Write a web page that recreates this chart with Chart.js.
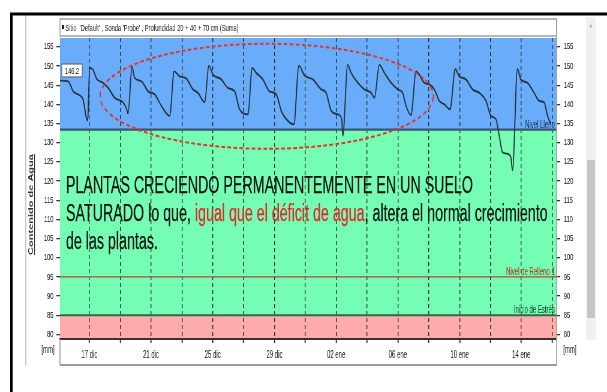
<!DOCTYPE html>
<html lang="es">
<head>
<meta charset="UTF-8">
<script src="https://cdn.jsdelivr.net/npm/chart.js"></script>
<style>
  html, body { margin: 0; padding: 0; background: #fff; overflow: hidden; }
  #wrap { width: 607px; height: 392px; overflow: hidden; }
</style>
</head>
<body>
<div id="wrap">
  <!-- the original screenshot is squeezed sideways (~0.6), so draw at 1012 px and squeeze to 607 -->
  <canvas id="grafico" width="1012" height="392" style="width:607px;height:392px;display:block"></canvas>
</div>
<script>
// x = days counted from 17 dic
const dias = [-1.90, -1.37, -1.05, -0.61, -0.40, -0.18, -0.10, 0.02, 0.25, 0.47, 0.89, 1.22, 1.65, 2.19, 2.40, 2.51,
  2.77, 2.94, 3.38, 3.81, 4.24, 4.67, 5.21, 5.50, 5.86, 6.29, 6.72, 7.04, 7.48, 7.75, 8.01, 8.56, 8.98, 9.42, 9.74, 10.28,
  10.56, 10.82, 11.25, 11.68, 12.12, 12.44, 12.87, 13.26, 13.58, 13.95, 14.49, 15.03, 15.35, 15.68, 16.10, 16.36, 16.43,
  16.75, 16.97, 17.40, 17.83, 18.27, 18.48, 18.80, 19.13, 19.56, 19.99, 20.31, 20.53, 20.85, 21.18, 21.72, 22.04, 22.36,
  22.69, 23.01, 23.38, 23.72, 23.98, 24.41, 24.84, 25.28, 25.71, 26.03, 26.36, 26.57, 26.78, 27.10, 27.32, 27.43, 27.75,
  27.97, 28.40, 28.83, 29.16, 29.48, 29.70, 29.92];
const agua = [146.2, 146.0, 143.4, 142.3, 141.2, 136.3, 135.8, 149.5, 149.0, 146.7, 145.6, 144.3, 141.7, 140.5, 139.0, 137.6,
  149.8, 146.9, 146.0, 143.4, 142.6, 139.6, 137.0, 148.6, 147.3, 146.7, 143.9, 143.0, 140.6, 150.1, 147.8, 146.5, 144.3, 143.4, 138.7, 137.4,
  149.5, 148.2, 146.5, 143.4, 142.6, 138.3, 135.7, 134.8, 150.1, 147.5, 146.5, 143.9, 143.0, 138.3, 137.4, 136.1, 131.8,
  150.3, 148.2, 145.6, 143.9, 143.0, 141.7, 150.3, 148.2, 145.6, 143.9, 143.0, 139.6, 137.2, 148.6, 145.6, 145.2, 143.9,
  140.9, 140.0, 138.7, 149.2, 147.3, 146.5, 143.9, 143.0, 140.9, 137.0, 136.1, 131.8, 127.5, 127.1, 126.2, 122.8, 149.2,
  146.5, 145.6, 143.0, 140.9, 140.5, 137.0, 134.8];

const ticksDias = [0, 2, 4, 6, 8, 10, 12, 14, 16, 18, 20, 22, 24, 26, 28, 30];
const etiquetasX = ['17 dic', '21 dic', '25 dic', '29 dic', '02 ene', '06 ene', '10 ene', '14 ene'];
const ticksY = [80, 85, 90, 95, 100, 105, 110, 115, 120, 125, 130, 135, 140, 145, 150, 155];

// levels (mm)
const nivelLleno = 133.4;
const nivelRelleno = 95;
const inicioEstres = 85;
const yMin = 78.8, yMax = 157.3;
const xMin = -1.9, xMax = 30.29;

// dashed ellipse: centre day, centre mm, radius in days, radius in mm
const elipse = [11.5, 142.1, 10.8, 13.7];

const FUENTE = "'Liberation Sans', Arial, sans-serif";
Chart.defaults.font.family = FUENTE;

const decorado = {
  id: 'decorado',
  beforeDraw(chart) {
    const { ctx, chartArea: a, scales: { y } } = chart;
    ctx.save();
    ctx.fillStyle = '#fff';
    ctx.fillRect(0, 0, chart.width, chart.height);
    const bandas = [[nivelLleno, yMax, '#69adfa'], [inicioEstres, nivelLleno, '#74fdb3'], [yMin, inicioEstres, '#fdabab']];
    bandas.forEach(([lo, hi, c]) => {
      const t = y.getPixelForValue(hi), b = y.getPixelForValue(lo);
      ctx.fillStyle = c;
      ctx.fillRect(a.left, t, a.right - a.left, b - t);
    });
    ctx.restore();
  },
  beforeDatasetsDraw(chart) {
    const { ctx, chartArea: a, scales: { y } } = chart;
    const lineas = [
      [nivelLleno, '#3c5572', 2.2, 'Nivel Lleno', '#1c2c4c'],
      [nivelRelleno, '#b5493a', 1.3, 'Nivel de Relleno 1', '#b23322'],
      [inicioEstres, '#2e6a4c', 1.8, 'Inicio de Estrés', '#163826']
    ];
    ctx.save();
    ctx.font = '10px ' + FUENTE;
    ctx.textAlign = 'right';
    ctx.textBaseline = 'alphabetic';
    lineas.forEach(([v, col, w, txt, tcol]) => {
      const py = y.getPixelForValue(v);
      ctx.strokeStyle = col;
      ctx.lineWidth = w;
      ctx.beginPath();
      ctx.moveTo(a.left, py);
      ctx.lineTo(a.right, py);
      ctx.stroke();
      ctx.fillStyle = tcol;
      ctx.fillText(txt, a.right - 3, py - 2);
    });
    ctx.restore();
  },
  afterDatasetsDraw(chart) {
    const { ctx, chartArea: a, scales: { x, y } } = chart;
    ctx.save();

    // red dashed ellipse
    const cx = x.getPixelForValue(elipse[0]), cy = y.getPixelForValue(elipse[1]);
    const rx = x.getPixelForValue(elipse[0] + elipse[2]) - cx;
    const ry = cy - y.getPixelForValue(elipse[1] + elipse[3]);
    ctx.strokeStyle = '#e8302c';
    ctx.lineWidth = 2;
    ctx.setLineDash([6, 4]);
    ctx.beginPath();
    ctx.ellipse(cx, cy, rx, ry, 0, 0, Math.PI * 2);
    ctx.stroke();
    ctx.setLineDash([]);

    // big note
    ctx.font = '23px ' + FUENTE;
    ctx.textAlign = 'left';
    ctx.textBaseline = 'alphabetic';
    const negro = '#111', rojo = '#e5262b';
    const lineasTexto = [
      [['PLANTAS CRECIENDO PERMANENTEMENTE EN UN SUELO', negro]],
      [['SATURADO lo que, ', negro], ['igual que el déficit de agua', rojo], [', altera el normal crecimiento', negro]],
      [['de las plantas.', negro]]
    ];
    const ancho2 = lineasTexto[1].reduce((s, p) => s + ctx.measureText(p[0]).width, 0);
    const k = 803 / ancho2;
    ctx.lineWidth = 0.25;
    lineasTexto.forEach((partes, i) => {
      ctx.save();
      ctx.translate(a.left + 10, 193 + i * 28);
      ctx.scale(k, 1);
      let px = 0;
      partes.forEach(([t, c]) => {
        ctx.fillStyle = c;
        ctx.strokeStyle = c;
        ctx.fillText(t, px, 0);
        ctx.strokeText(t, px, 0);
        px += ctx.measureText(t).width;
      });
      ctx.restore();
    });

    // current value box
    ctx.fillStyle = '#fff';
    ctx.fillRect(a.left + 3, 64, 34, 13);
    ctx.strokeStyle = '#6a6a6a';
    ctx.lineWidth = 1.2;
    ctx.strokeRect(a.left + 3, 64, 34, 13);
    ctx.fillStyle = '#222';
    ctx.font = '9.5px ' + FUENTE;
    ctx.textAlign = 'center';
    ctx.textBaseline = 'middle';
    ctx.fillText(agua[0].toFixed(1), a.left + 20, 71);
    ctx.restore();
  },
  afterDraw(chart) {
    const { ctx, chartArea: a } = chart;
    ctx.save();

    // title strip
    ctx.fillStyle = '#fff';
    ctx.fillRect(a.left, 19, a.right - a.left, 17);
    ctx.strokeStyle = '#a0a0a0';
    ctx.lineWidth = 1.5;
    ctx.strokeRect(a.left, 19, a.right - a.left, 17);
    ctx.fillStyle = '#222';
    ctx.fillRect(a.left + 3, 25, 4, 4);
    ctx.font = '9.5px ' + FUENTE;
    ctx.textAlign = 'left';
    ctx.textBaseline = 'middle';
    ctx.fillText("Sitio  'Default' , Sonda 'Probe' , Profundidad 20 + 40 + 70 cm (Suma)", a.left + 9, 28);

    // frame around the x axis area
    ctx.strokeStyle = '#9a9a9a';
    ctx.lineWidth = 1.5;
    ctx.beginPath();
    ctx.moveTo(a.left, a.bottom);
    ctx.lineTo(a.left, 365);
    ctx.moveTo(a.right, 19);
    ctx.lineTo(a.right, 365);
    ctx.stroke();
    ctx.lineWidth = 2.2;
    ctx.beginPath();
    ctx.moveTo(a.left, 365);
    ctx.lineTo(a.right, 365);
    ctx.stroke();

    // panel edge and black outer frame
    ctx.strokeStyle = '#cacaca';
    ctx.lineWidth = 2;
    ctx.beginPath();
    ctx.moveTo(43, 15);
    ctx.lineTo(43, 366);
    ctx.stroke();
    ctx.strokeStyle = '#000';
    ctx.lineWidth = 3;
    ctx.beginPath();
    ctx.moveTo(17, 14);
    ctx.lineTo(chart.width, 14);
    ctx.stroke();
    ctx.lineWidth = 4;
    ctx.beginPath();
    ctx.moveTo(19, 13);
    ctx.lineTo(19, chart.height);
    ctx.stroke();

    // scrollbar
    ctx.fillStyle = '#f0f0f0';
    ctx.fillRect(977, 17, 16, 323);
    ctx.fillStyle = '#c6c6c6';
    ctx.fillRect(979, 160, 13, 158);
    ctx.fillStyle = '#777';
    ctx.font = '9px ' + FUENTE;
    ctx.textAlign = 'center';
    ctx.fillText('^', 985, 29);

    // units and axis title
    ctx.fillStyle = '#222';
    ctx.font = '10px ' + FUENTE;
    ctx.fillText('[mm]', 80, 350);
    ctx.fillText('[mm]', 950, 350);

    ctx.translate(51, 204.5);
    ctx.rotate(-Math.PI / 2);
    ctx.font = 'bold 11px ' + FUENTE;
    ctx.textBaseline = 'alphabetic';
    ctx.fillStyle = '#333';
    const titulo = 'Contenido de Agua';
    const w = ctx.measureText(titulo).width;
    ctx.fillText(titulo, 0, 4);
    ctx.fillRect(-w / 2, 6, w, 1.2);
    ctx.restore();
  }
};

const tickY = {
  min: yMin, max: yMax,
  afterBuildTicks: s => { s.ticks = ticksY.map(v => ({ value: v })); },
  grid: { drawOnChartArea: false, tickLength: 6, color: '#333', lineWidth: 1.3 },
  border: { display: false }
};

new Chart(document.getElementById('grafico'), {
  type: 'line',
  data: {
    datasets: [{
      label: 'Suma',
      data: dias.map((d, i) => ({ x: d, y: agua[i] })),
      borderColor: '#26333f',
      borderWidth: 1.9,
      pointRadius: 0,
      cubicInterpolationMode: 'monotone',
      fill: false,
      yAxisID: 'y'
    }]
  },
  options: {
    responsive: false,
    animation: false,
    devicePixelRatio: 1,
    layout: { padding: { top: 38, left: 0, right: 0, bottom: 0 } },
    plugins: { legend: { display: false }, tooltip: { enabled: false }, title: { display: false } },
    scales: {
      x: {
        type: 'linear', min: xMin, max: xMax,
        afterBuildTicks: s => { s.ticks = ticksDias.map(v => ({ value: v })); },
        afterFit: s => { s.height = 53; },
        ticks: {
          autoSkip: false, maxRotation: 0, padding: 6, color: '#111', font: { size: 10 },
          callback: v => (v % 4 === 0 ? (etiquetasX[v / 4] || '') : '')
        },
        grid: { color: '#2a2a2a', lineWidth: 1.4, tickLength: 4, tickColor: '#222', tickWidth: 1.8 },
        border: { display: true, color: '#333', width: 2, dash: [4, 3] }
      },
      y: Object.assign({}, tickY, {
        position: 'left',
        afterFit: s => { s.width = 100; },
        ticks: { color: '#111', font: { size: 9.5 }, padding: 5 }
      }),
      y2: Object.assign({}, tickY, {
        position: 'right',
        afterFit: s => { s.width = 84; },
        ticks: { color: '#111', font: { size: 9.5 }, padding: 6 }
      })
    }
  },
  plugins: [decorado]
});
</script>
</body>
</html>
